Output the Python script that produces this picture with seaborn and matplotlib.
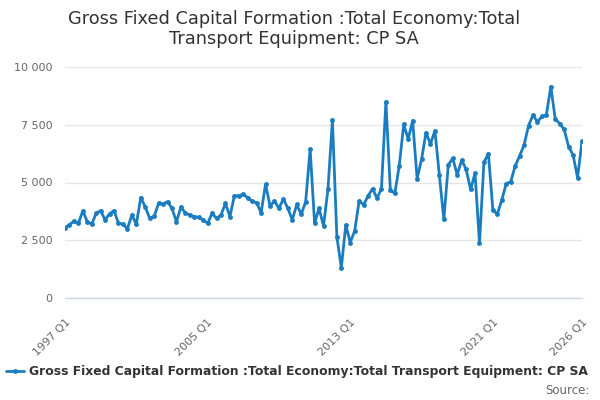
import matplotlib
matplotlib.use("Agg")
import matplotlib.pyplot as plt
import seaborn as sns
import pandas as pd
from matplotlib.lines import Line2D

title = "Gross Fixed Capital Formation :Total Economy:Total\nTransport Equipment: CP SA"
series_name = "Gross Fixed Capital Formation :Total Economy:Total Transport Equipment: CP SA"

start_year = 1997
values = [
    3050, 3170, 3330, 3230, 3770, 3300, 3200, 3670, 3780, 3380,
    3650, 3780, 3230, 3200, 3000, 3590, 3200, 4350, 3950, 3450,
    3530, 4100, 4070, 4170, 3880, 3300, 3930, 3690, 3590, 3520,
    3500, 3380, 3230, 3660, 3450, 3590, 4100, 3520, 4420, 4430,
    4490, 4340, 4180, 4120, 3690, 4930, 3980, 4200, 3880, 4290,
    3880, 3380, 4050, 3620, 4170, 6450, 3240, 3880, 3120, 4700,
    7700, 2650, 1310, 3160, 2400, 2910, 4210, 4030, 4420, 4730,
    4320, 4730, 8500, 4680, 4530, 5730, 7520, 6880, 7680, 5170,
    6000, 7160, 6670, 7240, 5310, 3400, 5760, 6050, 5330, 5970,
    5570, 4700, 5400, 2370, 5880, 6250, 3810, 3630, 4240, 4950,
    5030, 5710, 6150, 6620, 7460, 7920, 7620, 7860, 7920, 9150,
    7750, 7550, 7300, 6550, 6190, 5210, 6780,
]
quarter_labels = [f"{start_year + i // 4} Q{i % 4 + 1}" for i in range(len(values))]
y_ticks = [0, 2500, 5000, 7500, 10000]
y_tick_labels = ["0", "2 500", "5 000", "7 500", "10 000"]
x_label_years = ["1997 Q1", "2005 Q1", "2013 Q1", "2021 Q1", "2026 Q1"]

df = pd.DataFrame({"idx": range(len(values)), "value": values, "quarter": quarter_labels})

sns.set_theme(style="white")
plt.rcParams["font.family"] = ["DejaVu Sans"]

color = "#1a7cc1"
fig = plt.figure(figsize=(6, 4), dpi=100)
ax = fig.add_axes([65 / 600, 1 - 298 / 400, (582 - 65) / 600, (298 - 67) / 400])

sns.lineplot(data=df, x="idx", y="value", ax=ax, color=color, linewidth=2,
             marker="o", markersize=3.5, markeredgewidth=0, legend=False)

ax.set_xlim(0, len(values) - 1)
ax.set_ylim(0, 10000)
ax.set_xlabel("")
ax.set_ylabel("")

ax.set_yticks(y_ticks)
ax.set_yticklabels(y_tick_labels)
ax.tick_params(axis="y", length=0, labelsize=8, colors="#666666", pad=9)
ax.yaxis.grid(True, color="#e6e6e6", linewidth=1)
ax.set_axisbelow(True)

pos_map = {q: i for i, q in enumerate(quarter_labels)}
major_pos = [pos_map[q] for q in x_label_years]
minor_pos = [p for p in range(0, len(values), 8) if p not in major_pos and p < len(values) - 8]
ax.set_xticks(major_pos)
ax.set_xticklabels(x_label_years, rotation=45, ha="right", rotation_mode="anchor")
ax.set_xticks(minor_pos, minor=True)
ax.tick_params(axis="x", which="both", length=10, width=1, color="#ccd6eb",
               labelsize=8, labelcolor="#666666", pad=4, direction="out")

for s in ["top", "right", "left"]:
    ax.spines[s].set_visible(False)
ax.spines["bottom"].set_color("#ccd6eb")
ax.spines["bottom"].set_linewidth(1)

fig.text(0.49, 1 - 29 / 400, title, ha="center", va="center", fontsize=12.8,
         color="#333333", linespacing=1.1)

handle = Line2D([], [], color=color, linewidth=2, marker="o", markersize=3.5, markeredgewidth=0)
fig.legend([handle], [series_name], loc="center", bbox_to_anchor=(0.495, 1 - 372 / 400),
           frameon=False, prop={"weight": "bold", "size": 8.9}, handlelength=1.4,
           handletextpad=0.4, labelcolor="#333333")
fig.text(0.982, 1 - 390 / 400, "Source:", ha="right", va="center", fontsize=8.5, color="#666666")

fig.savefig("out.png", dpi=100)
